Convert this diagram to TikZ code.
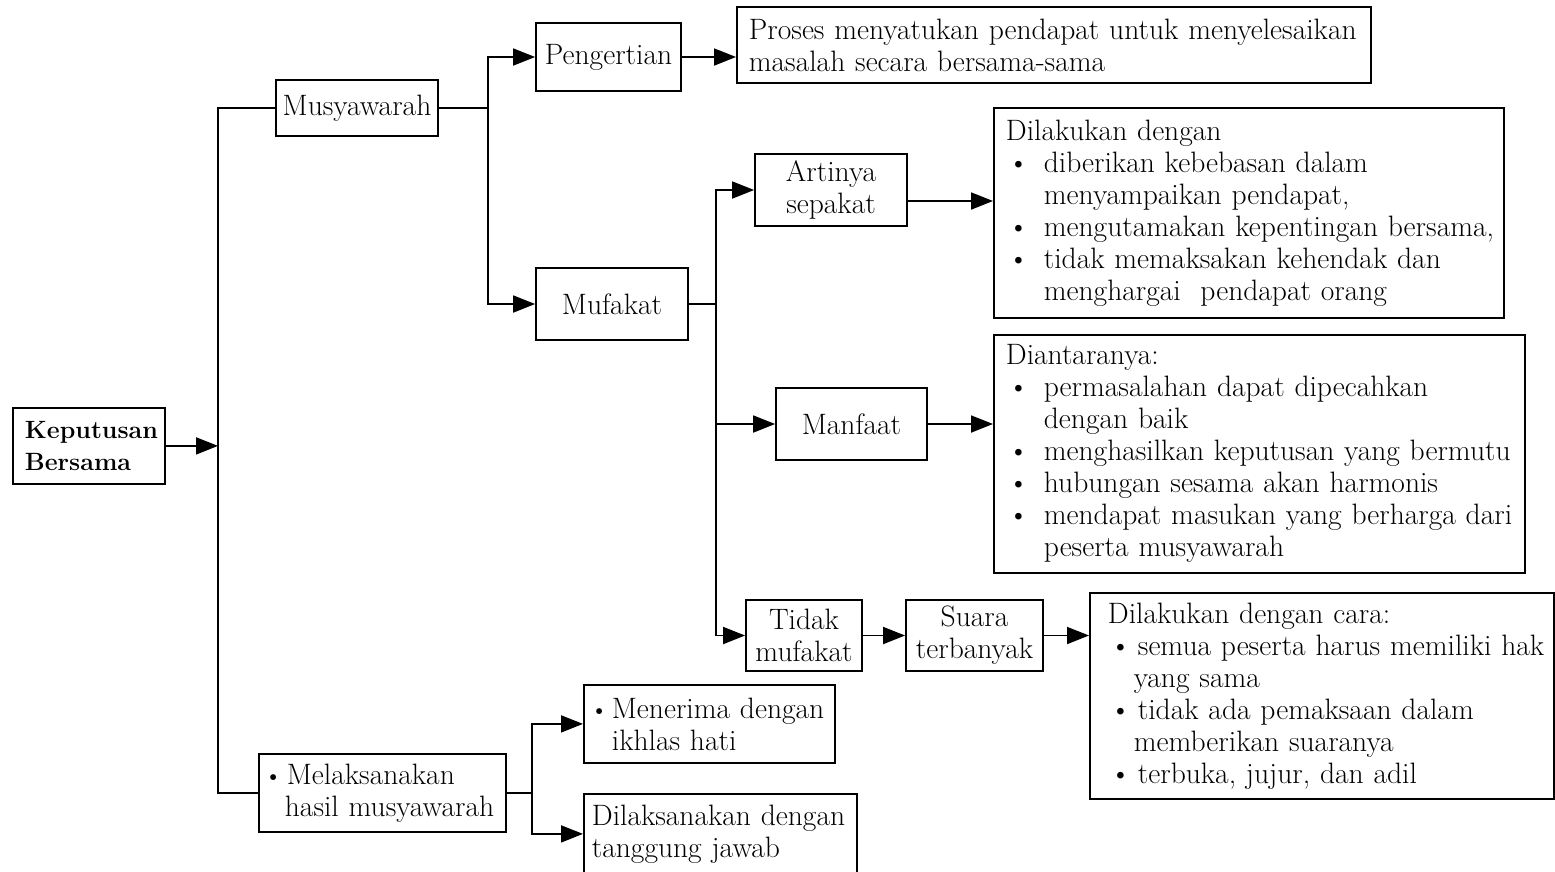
\documentclass[tikz,border=0pt]{standalone}
\usepackage{tikz}
\usetikzlibrary{%
	arrows.meta,%
	calc
}
\newcommand{\itm}[2][38pt]{\mbox{\makebox[#1][l]{\hspace{2pt}\textbullet}#2}}
\newcommand{\pnt}[2][20pt]{\mbox{\makebox[#1][l]{\hspace{-2pt}{\fontsize{26}{32}\selectfont\textbullet}}#2}}
\newcommand{\cont}[2][38pt]{\mbox{\hspace*{#1}#2}}

\begin{document}
\begin{tikzpicture}[x=1pt,y=-1pt,
	box/.style={draw,line width=1.8pt,inner sep=0pt,align=center,
		font=\fontsize{29.5}{32}\selectfont},
	listbox/.style={box,anchor=north west,align=left,inner xsep=12pt},
	link/.style={line width=1.8pt},
	arr/.style={link,-{Triangle[length=22pt,width=17pt]}}
	]
	\useasboundingbox (0,0) rectangle (1555,871);

	% Boxes
	\node[listbox,text width=128pt,minimum height=76pt,
		font=\fontsize{25}{32}\selectfont\bfseries] (kepu) at (12,407) {Keputusan\\Bersama};
	\node[box,minimum width=162pt,minimum height=56pt] (musy) at (357,108) {Musyawarah};
	\node[box,minimum width=145pt,minimum height=68pt] (peng) at (608.5,57) {Pengertian};
	\node[listbox,text width=610pt,minimum height=76pt] (pros) at (736,6)
		{Proses menyatukan pendapat untuk menyelesaikan\\masalah secara bersama-sama};
	\node[box,minimum width=152pt,minimum height=72pt] (mufa) at (612,304) {Mufakat};
	\node[box,minimum width=152pt,minimum height=72pt] (arti) at (831,190) {Artinya\\sepakat};
	\node[listbox,text width=486pt,minimum height=210pt] (dila) at (993,107)
		{Dilakukan dengan\\
		\itm{diberikan kebebasan dalam}\\
		\cont{menyampaikan pendapat,}\\
		\itm{mengutamakan kepentingan bersama,}\\
		\itm{tidak memaksakan kehendak dan}\\
		\cont{menghargai~ pendapat orang}};
	\node[box,minimum width=151pt,minimum height=72pt] (manf) at (851.5,424) {Manfaat};
	\node[listbox,text width=507pt,minimum height=238pt] (dian) at (993,334)
		{Diantaranya:\\
		\itm{permasalahan dapat dipecahkan}\\
		\cont{dengan baik}\\
		\itm{menghasilkan keputusan yang bermutu}\\
		\itm{hubungan sesama akan harmonis}\\
		\itm{mendapat masukan yang berharga dari}\\
		\cont{peserta musyawarah}};
	\node[box,minimum width=116pt,minimum height=71pt] (tida) at (804,635.5) {Tidak\\mufakat};
	\node[box,minimum width=137pt,minimum height=71pt] (suar) at (974.5,635.5) {Suara\\terbanyak};
	\node[listbox,inner xsep=18pt,text width=428pt,minimum height=206pt] (cara) at (1089,592)
		{Dilakukan dengan cara:\\
		\itm[30pt]{semua peserta harus memiliki hak}\\
		\cont[26pt]{yang sama}\\
		\itm[30pt]{tidak ada pemaksaan dalam}\\
		\cont[26pt]{memberikan suaranya}\\
		\itm[30pt]{terbuka, jujur, dan adil}};
	\node[listbox,inner xsep=7pt,text width=233pt,minimum height=78pt] (mela) at (258,753)
		{\pnt[21pt]{Melaksanakan}\\ \cont[19pt]{hasil musyawarah}};
	\node[listbox,inner xsep=8pt,text width=235pt,minimum height=78pt] (mene) at (583,684)
		{\pnt[20pt]{Menerima dengan}\\ \cont[20pt]{ikhlas hati}};
	\node[listbox,inner xsep=8pt,text width=257pt,minimum height=80pt] (dlks) at (583,793)
		{Dilaksanakan dengan\\tanggung jawab};

	% Junctions
	\coordinate (spin) at (218,445);
	\coordinate (jmus) at (488,108);
	\coordinate (jmuf) at (716,304);
	\coordinate (jmel) at (532,786);

	% Connectors
	\draw[arr] (kepu.east) -- (kepu.east -| spin);
	\draw[link] (musy.west) -| (spin) |- (mela.west);
	\draw[link] (musy.east) -- (jmus);
	\draw[arr] (jmus) |- (peng.west);
	\draw[arr] (jmus) |- (mufa.west);
	\draw[arr] (peng.east) -- (peng.east -| pros.west);
	\draw[link] (mufa.east) -- (jmuf);
	\draw[arr] (jmuf) |- (arti.west);
	\draw[arr] (jmuf) |- (manf.west);
	\draw[arr] (jmuf) |- (tida.west);
	\draw[arr] ([yshift=-11pt]arti.east) -- ([yshift=-11pt]arti.east -| dila.west);
	\draw[arr] (manf.east) -- (manf.east -| dian.west);
	\draw[arr] (tida.east) -- (suar.west);
	\draw[arr] (suar.east) -- (suar.east -| cara.west);
	\draw[link] (mela.east) -- (mela.east -| jmel);
	\draw[arr] (jmel) |- (mene.west);
	\draw[arr] (jmel) |- (dlks.west);
\end{tikzpicture}
\end{document}
